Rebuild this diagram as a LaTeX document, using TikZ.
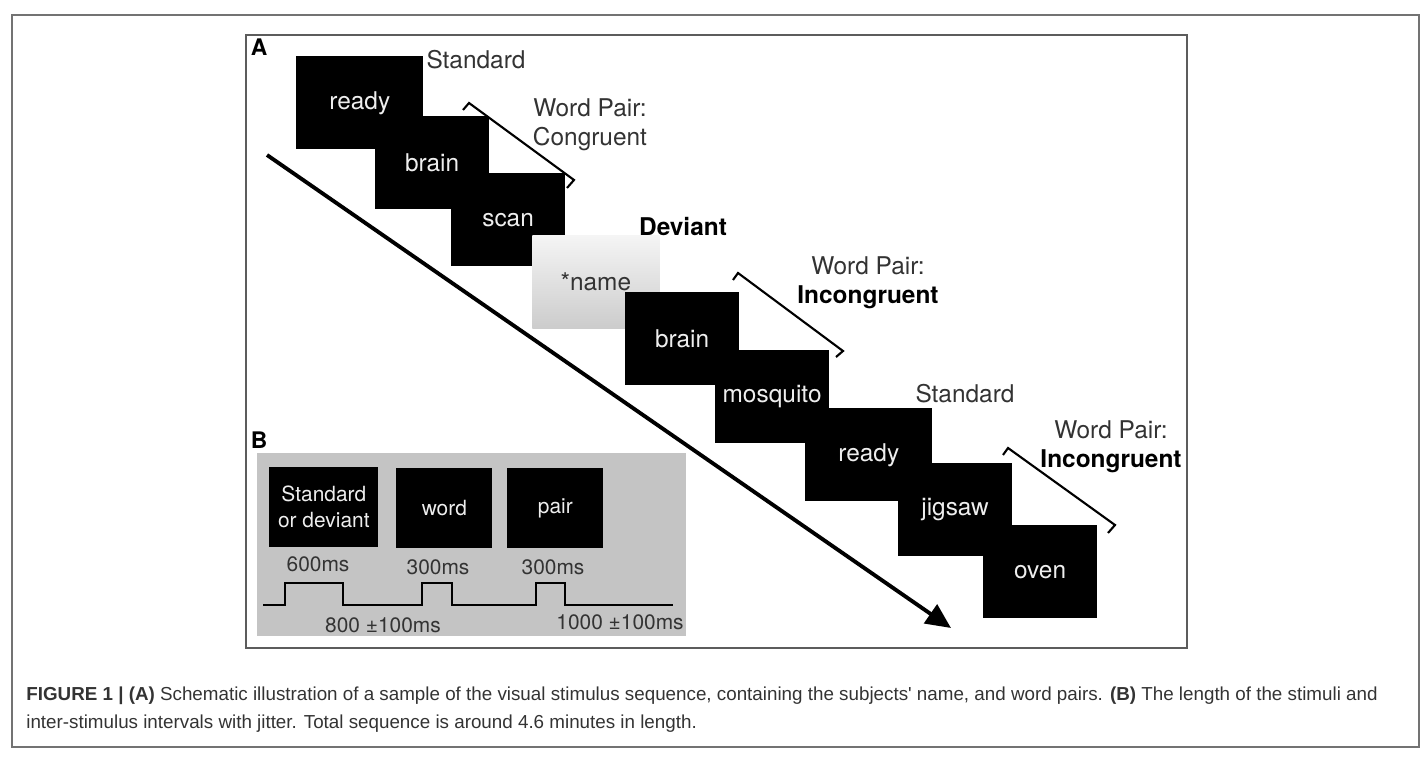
\documentclass[tikz,border=0pt]{standalone}
\usepackage{fontspec}
\setmainfont{TeX Gyre Heros}
\newfontfamily\capfont{Liberation Sans}
\usetikzlibrary{arrows.meta}
\definecolor{TG}{RGB}{51,51,51}
\definecolor{PG}{RGB}{196,196,196}
\definecolor{FG}{RGB}{115,115,115}
\definecolor{WT}{RGB}{238,238,238}

\begin{document}
\begin{tikzpicture}[
  x=0.02cm, y=-0.02cm,
  stim/.style={fill=black, text=WT, anchor=north west, inner sep=0pt,
               minimum width=#1, minimum height=1.86cm,
               font=\fontsize{13.9}{16.8}\selectfont},
  stim/.default=2.27cm,
  lbl/.style={text=TG, align=center, inner sep=0pt,
              font=\fontsize{13.9}{16.8}\selectfont},
  small/.style={text=TG, inner sep=0pt, font=\fontsize{11.9}{14.8}\selectfont},
  sbox/.style={fill=black, text=WT, anchor=north west, inner sep=0pt,
               minimum width=#1, minimum height=1.6cm, align=center,
               font=\fontsize{11.9}{14.8}\selectfont},
  panel/.style={font=\fontsize{13}{15}\selectfont\bfseries, inner sep=0pt},
  brace/.style={draw=black, line width=1.2pt, line join=miter},
  pulse/.style={draw=black, line width=1.1pt},
  captext/.style={anchor=base west, inner sep=0pt, text=TG,
              font=\capfont\fontsize{10.7}{13}\selectfont}
]
\useasboundingbox (0,0) rectangle (1426,766);

% Frames
\draw[FG, line width=0.9pt] (12,15) rectangle (1419,747);
\draw[FG!80!black, line width=0.9pt] (246,35) rectangle (1187,648);
\node[panel] (pa) at (259,47) {A};

% Time arrow
\coordinate (t0) at (267,155);
\coordinate (t1) at (951,628);
\draw[line width=2.2pt, -{Triangle[length=0.5cm, width=0.45cm]}] (t0) -- (t1);

% Stimulus sequence
\node[stim=2.54cm] (ready1) at (296,56) {ready};
\node[stim] (brain1) at (375,116) {brain};
\node[stim] (scan) at (451,173) {scan};
\node[stim=2.54cm, fill=none, top color=gray!8, bottom color=gray!40, text=TG]
  (name) at (532,235) {*name};
\node[stim] (brain2) at (625,292) {brain};
\node[stim] (mosq) at (715,350) {mosquito};
\node[stim=2.54cm] (ready2) at (805,408) {ready};
\node[stim] (jigsaw) at (898,463) {jigsaw};
\node[stim] (oven) at (983,525) {oven};

% Labels
\node[lbl] (std1) at (476,60) {Standard};
\node[lbl] (pair1) at (590,125) {Word Pair:\\Congruent};
\node[lbl, text=black, font=\fontsize{13.9}{16.8}\selectfont\bfseries]
  (dev) at (683,227) {Deviant};
\node[lbl] (pair2) at (868,283) {Word Pair:\\\textbf{\color{black}Incongruent}};
\node[lbl] (std2) at (965,394) {Standard};
\node[lbl] (pair3) at (1111,447) {Word Pair:\\\textbf{\color{black}Incongruent}};

% Brackets
\draw[brace] (463,110) -- (469,103) -- (574,180) -- (567,188);
\draw[brace] (733,280) -- (738,273) -- (843,351) -- (836,357);
\draw[brace] (1003,455) -- (1008,448) -- (1115,525) -- (1108,533);

% Timing panel
\node[panel] (pb) at (259,440) {B};
\fill[PG] (257,453) rectangle (686,636);
\node[sbox=2.18cm] (sd) at (269,467) {Standard\\or deviant};
\node[sbox=1.92cm] (wd) at (396,468) {word};
\node[sbox=1.92cm] (pr) at (507,468) {pair};
\node[small, anchor=base] (d1) at (318,571) {600ms};
\node[small, anchor=base] (d2) at (438,574) {300ms};
\node[small, anchor=base] (d3) at (553,574) {300ms};
\draw[pulse] (263,605) -- (285,605) -- (285,583) -- (343,583) -- (343,605)
  -- (422,605) -- (422,583) -- (452,583) -- (452,605)
  -- (536,605) -- (536,583) -- (565,583) -- (565,605) -- (673,605);
\node[small, anchor=base] (i1) at (383,632) {800 ±100ms};
\node[small, anchor=base] (i2) at (620,629) {1000 ±100ms};

% Caption
\node[captext] (cap1) at (26,700) {\textbf{FIGURE 1 | (A)} Schematic illustration of a sample of the visual stimulus sequence, containing the subjects' name, and word pairs. \textbf{(B)} The length of the stimuli and};
\node[captext] (cap2) at (26,728) {inter-stimulus intervals with jitter. Total sequence is around 4.6 minutes in length.};
\end{tikzpicture}
\end{document}
